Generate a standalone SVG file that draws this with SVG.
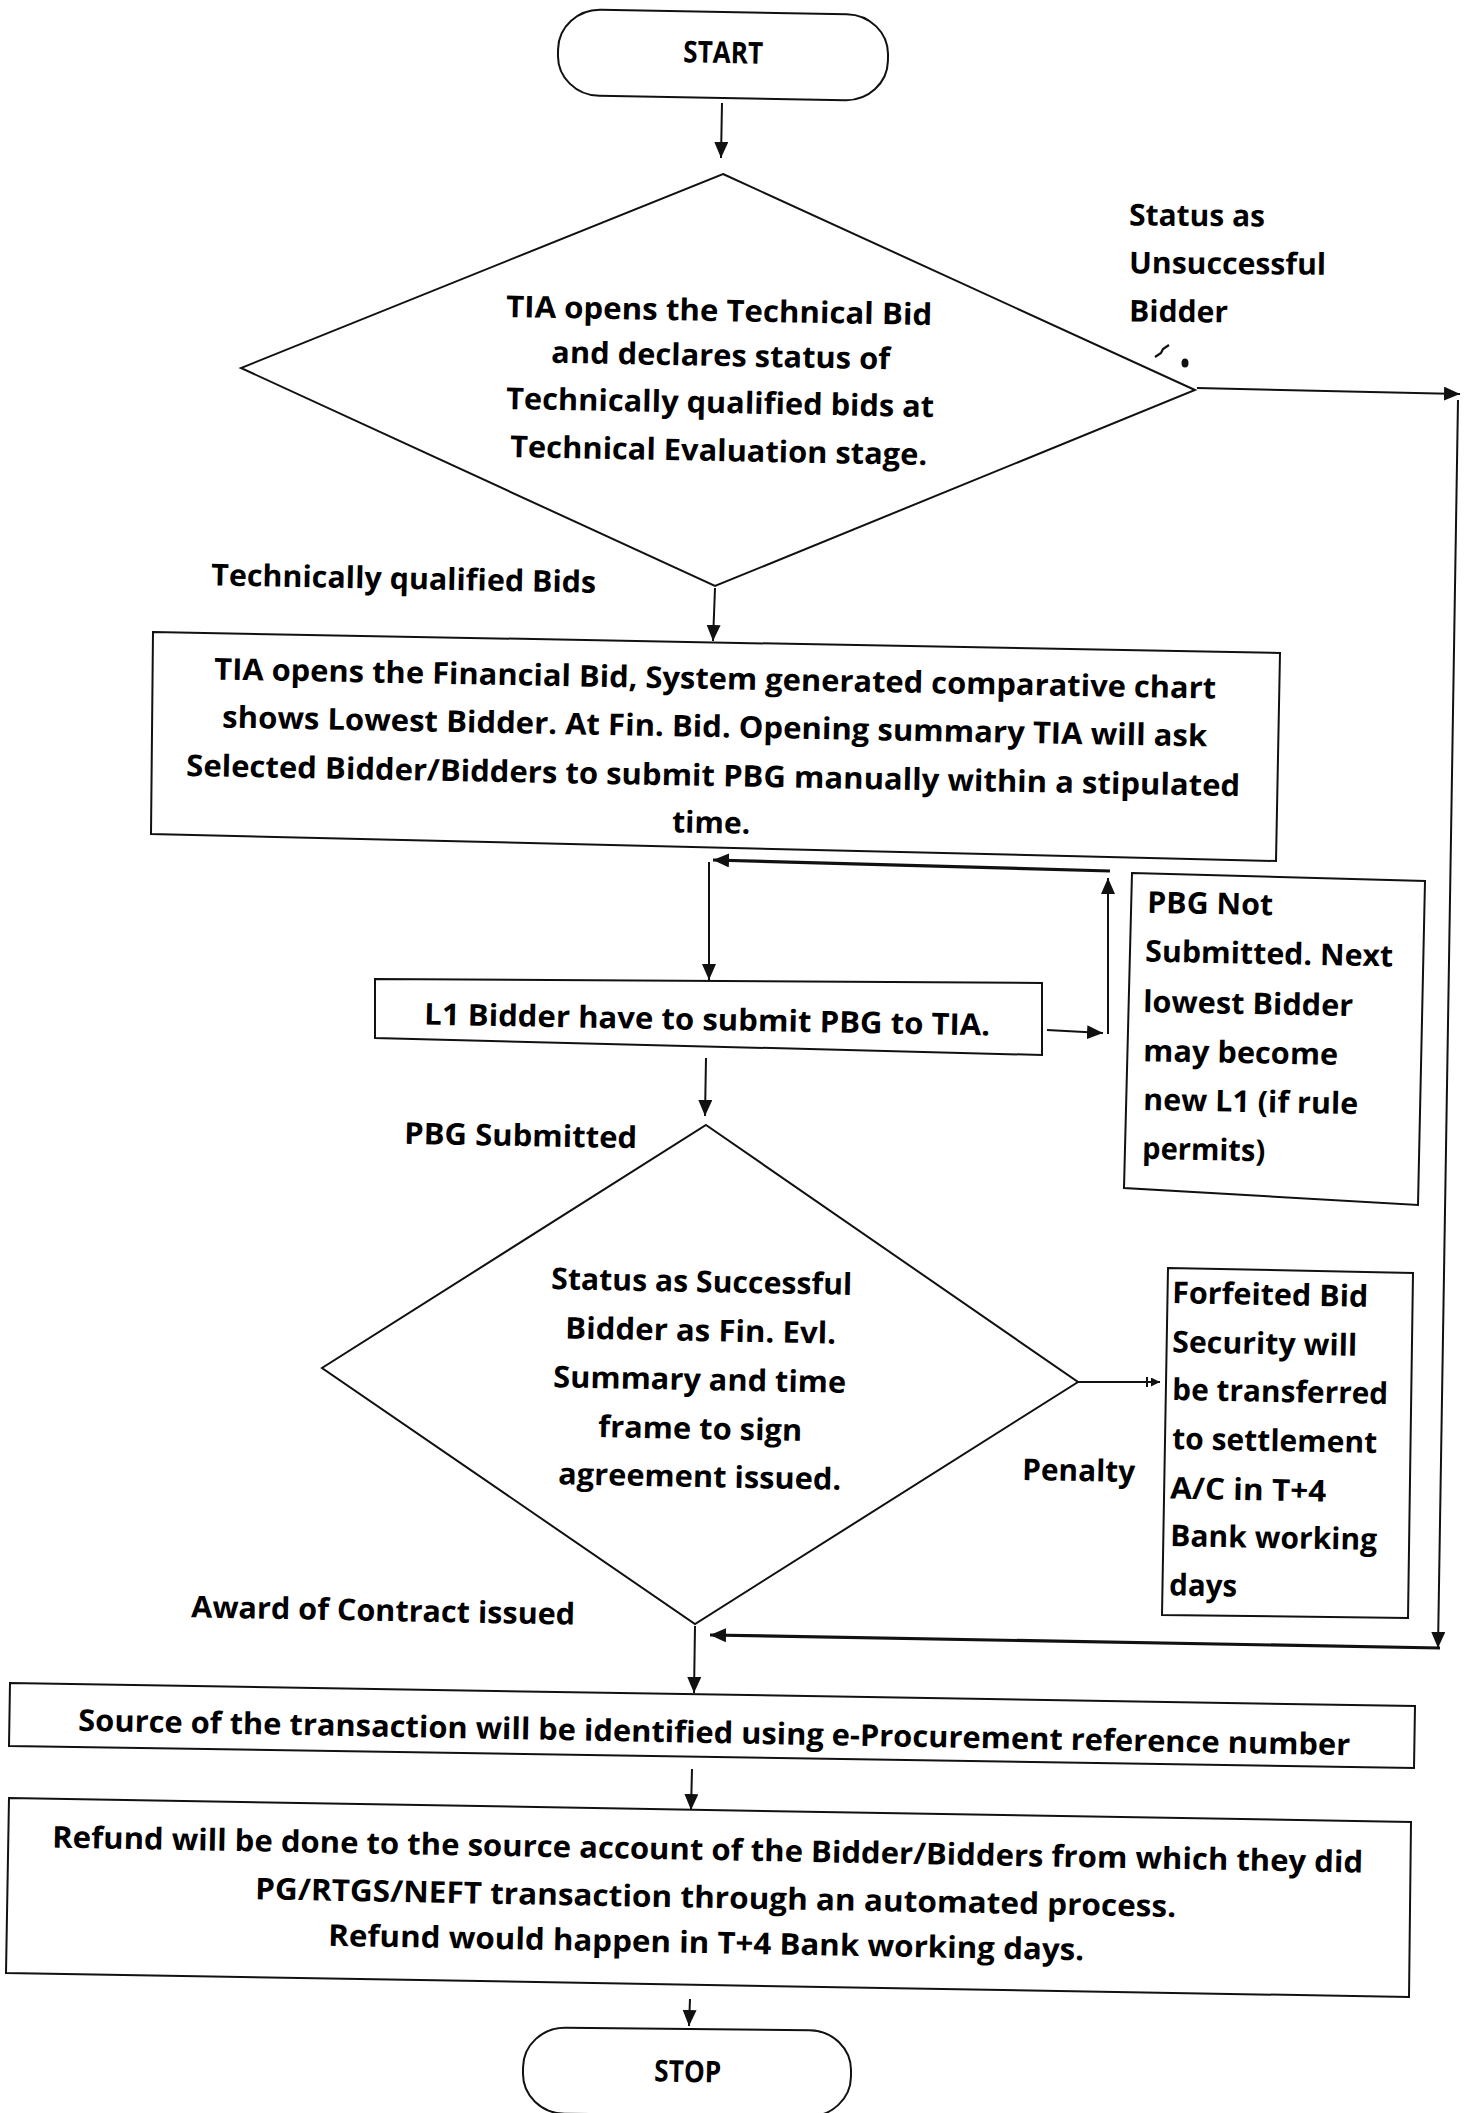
<svg xmlns="http://www.w3.org/2000/svg" width="1465" height="2113" viewBox="0 0 1465 2113">
<style>
.bg{fill:#ffffff}
.sh{fill:none;stroke:#111;stroke-width:2}
.ln{fill:none;stroke:#111;stroke-width:2}
.thk{fill:none;stroke:#111;stroke-width:3.2}
.t{font-family:"Open Sans",Lato,"Liberation Sans",sans-serif;font-weight:700;font-size:30px;fill:#000}
</style>
<defs>
<marker id="ah" markerUnits="userSpaceOnUse" markerWidth="16" markerHeight="14" refX="16" refY="7" orient="auto"><path d="M0,0 L16,7 L0,14 z" fill="#111"/></marker>
<marker id="ahs" markerUnits="userSpaceOnUse" markerWidth="9" markerHeight="9" refX="9" refY="4.5" orient="auto"><path d="M0,0 L9,4.5 L0,9 z" fill="#111"/></marker>
</defs>
<rect class="bg" x="0" y="0" width="1465" height="2113"/>

<g id="start">
<rect class="sh" x="558" y="12" width="330" height="86" rx="42" ry="40" transform="rotate(1 723 55)"/>
<text class="t" x="683" y="63" textLength="80" lengthAdjust="spacingAndGlyphs" transform="rotate(1.1 723 63)">START</text>
</g>

<g id="tech-eval">
<polygon class="sh" points="723,174 1195,390 715,586 241,368"/>
<text class="t" x="506" y="321" textLength="426" lengthAdjust="spacingAndGlyphs" transform="rotate(1.1 719 321)">TIA opens the Technical Bid</text>
<text class="t" x="551" y="366" textLength="339" lengthAdjust="spacingAndGlyphs" transform="rotate(1.1 720 366)">and declares status of</text>
<text class="t" x="506" y="413" textLength="428" lengthAdjust="spacingAndGlyphs" transform="rotate(1.1 720 413)">Technically qualified bids at</text>
<text class="t" x="510" y="461" textLength="417" lengthAdjust="spacingAndGlyphs" transform="rotate(1.1 718 461)">Technical Evaluation stage.</text>
</g>

<g id="fin-bid">
<polygon class="sh" points="153,632 1280,653 1276,861 151,834"/>
<text class="t" x="214" y="689" textLength="1002" lengthAdjust="spacingAndGlyphs" transform="rotate(1.1 715 689)">TIA opens the Financial Bid, System generated comparative chart</text>
<text class="t" x="222" y="737" textLength="985" lengthAdjust="spacingAndGlyphs" transform="rotate(1.1 714 737)">shows Lowest Bidder. At Fin. Bid. Opening summary TIA will ask</text>
<text class="t" x="186" y="786" textLength="1054" lengthAdjust="spacingAndGlyphs" transform="rotate(1.1 713 786)">Selected Bidder/Bidders to submit PBG manually within a stipulated</text>
<text class="t" x="672" y="833" textLength="78" lengthAdjust="spacingAndGlyphs" transform="rotate(1.1 711 833)">time.</text>
</g>

<g id="l1-bidder">
<polygon class="sh" points="375,979 1042,983 1042,1055 375,1038"/>
<text class="t" x="424" y="1030" textLength="566" lengthAdjust="spacingAndGlyphs" transform="rotate(1.1 707 1030)">L1 Bidder have to submit PBG to TIA.</text>
</g>

<g id="pbg-not">
<polygon class="sh" points="1132,873 1425,881 1418,1205 1124,1188"/>
<text class="t" x="1147" y="914" textLength="126" lengthAdjust="spacingAndGlyphs" transform="rotate(1.1 1210 914)">PBG Not</text>
<text class="t" x="1145" y="964" textLength="248" lengthAdjust="spacingAndGlyphs" transform="rotate(1.1 1269 964)">Submitted. Next</text>
<text class="t" x="1143" y="1014" textLength="210" lengthAdjust="spacingAndGlyphs" transform="rotate(1.1 1248 1014)">lowest Bidder</text>
<text class="t" x="1143" y="1063" textLength="195" lengthAdjust="spacingAndGlyphs" transform="rotate(1.1 1240 1063)">may become</text>
<text class="t" x="1143" y="1112" textLength="215" lengthAdjust="spacingAndGlyphs" transform="rotate(1.1 1250 1112)">new L1 (if rule</text>
<text class="t" x="1142" y="1160" textLength="123" lengthAdjust="spacingAndGlyphs" transform="rotate(1.1 1203 1160)">permits)</text>
</g>

<g id="fin-eval">
<polygon class="sh" points="706,1125 1078,1382 695,1624 322,1368"/>
<text class="t" x="551" y="1292" textLength="301" lengthAdjust="spacingAndGlyphs" transform="rotate(1.1 701 1292)">Status as Successful</text>
<text class="t" x="565" y="1341" textLength="271" lengthAdjust="spacingAndGlyphs" transform="rotate(1.1 700 1341)">Bidder as Fin. Evl.</text>
<text class="t" x="553" y="1390" textLength="293" lengthAdjust="spacingAndGlyphs" transform="rotate(1.1 700 1390)">Summary and time</text>
<text class="t" x="598" y="1439" textLength="204" lengthAdjust="spacingAndGlyphs" transform="rotate(1.1 700 1439)">frame to sign</text>
<text class="t" x="558" y="1487" textLength="283" lengthAdjust="spacingAndGlyphs" transform="rotate(1.1 700 1487)">agreement issued.</text>
</g>

<g id="forfeited">
<polygon class="sh" points="1168,1268 1413,1273 1408,1618 1162,1615"/>
<text class="t" x="1172" y="1305" textLength="196" lengthAdjust="spacingAndGlyphs" transform="rotate(1.1 1270 1305)">Forfeited Bid</text>
<text class="t" x="1172" y="1354" textLength="185" lengthAdjust="spacingAndGlyphs" transform="rotate(1.1 1264 1354)">Security will</text>
<text class="t" x="1172" y="1402" textLength="216" lengthAdjust="spacingAndGlyphs" transform="rotate(1.1 1280 1402)">be transferred</text>
<text class="t" x="1172" y="1451" textLength="205" lengthAdjust="spacingAndGlyphs" transform="rotate(1.1 1274 1451)">to settlement</text>
<text class="t" x="1170" y="1500" textLength="156" lengthAdjust="spacingAndGlyphs" transform="rotate(1.1 1248 1500)">A/C in T+4</text>
<text class="t" x="1170" y="1548" textLength="207" lengthAdjust="spacingAndGlyphs" transform="rotate(1.1 1273 1548)">Bank working</text>
<text class="t" x="1169" y="1596" textLength="68" lengthAdjust="spacingAndGlyphs" transform="rotate(1.1 1203 1596)">days</text>
</g>

<g id="source">
<polygon class="sh" points="10,1683 1415,1706 1414,1768 9,1746"/>
<text class="t" x="78" y="1743" textLength="1272" lengthAdjust="spacingAndGlyphs" transform="rotate(1.1 714 1743)">Source of the transaction will be identified using e-Procurement reference number</text>
</g>

<g id="refund">
<polygon class="sh" points="9,1798 1411,1822 1409,1997 6,1973"/>
<text class="t" x="52" y="1860" textLength="1311" lengthAdjust="spacingAndGlyphs" transform="rotate(1.1 707 1860)">Refund will be done to the source account of the Bidder/Bidders from which they did</text>
<text class="t" x="255" y="1908" textLength="921" lengthAdjust="spacingAndGlyphs" transform="rotate(1.1 715 1908)">PG/RTGS/NEFT transaction through an automated process.</text>
<text class="t" x="328" y="1953" textLength="756" lengthAdjust="spacingAndGlyphs" transform="rotate(1.1 706 1953)">Refund would happen in T+4 Bank working days.</text>
</g>

<g id="stop">
<rect class="sh" x="523" y="2029" width="328" height="86" rx="42" ry="40" transform="rotate(0.6 687 2072)"/>
<text class="t" x="654" y="2082" textLength="67" lengthAdjust="spacingAndGlyphs" transform="rotate(1.1 687 2082)">STOP</text>
</g>

<g id="labels">
<text class="t" x="1129" y="226" textLength="136" lengthAdjust="spacingAndGlyphs" transform="rotate(0.5 1197 226)">Status as</text>
<text class="t" x="1129" y="274" textLength="197" lengthAdjust="spacingAndGlyphs" transform="rotate(0.5 1227 274)">Unsuccessful</text>
<text class="t" x="1129" y="322" textLength="99" lengthAdjust="spacingAndGlyphs" transform="rotate(0.5 1178 322)">Bidder</text>
<text class="t" x="211" y="589" textLength="385" lengthAdjust="spacingAndGlyphs" transform="rotate(1.1 403 589)">Technically qualified Bids</text>
<text class="t" x="404" y="1146" textLength="233" lengthAdjust="spacingAndGlyphs" transform="rotate(1.1 520 1146)">PBG Submitted</text>
<text class="t" x="1022" y="1481" textLength="113" lengthAdjust="spacingAndGlyphs" transform="rotate(1.1 1078 1481)">Penalty</text>
<text class="t" x="191" y="1621" textLength="384" lengthAdjust="spacingAndGlyphs" transform="rotate(1.1 383 1621)">Award of Contract issued</text>
<path d="M1155,357 L1161,353 L1163,349 L1166,347 L1169,345" fill="none" stroke="#111" stroke-width="2.2"/>
<ellipse cx="1185" cy="363" rx="3.5" ry="4.5" fill="#111"/>
</g>

<g id="connectors">
<line class="ln" x1="722" y1="103" x2="721" y2="158" marker-end="url(#ah)"/>
<line class="ln" x1="715" y1="588" x2="713" y2="641" marker-end="url(#ah)"/>
<line class="ln" x1="709" y1="862" x2="709" y2="980" marker-end="url(#ah)"/>
<line class="ln" x1="706" y1="1058" x2="705" y2="1116" marker-end="url(#ah)"/>
<line class="ln" x1="695" y1="1626" x2="694" y2="1693" marker-end="url(#ah)"/>
<line class="ln" x1="692" y1="1769" x2="691" y2="1810" marker-end="url(#ah)"/>
<line class="ln" x1="690" y1="1999" x2="689" y2="2026" marker-end="url(#ah)"/>
<line class="ln" x1="1197" y1="388" x2="1460" y2="394" marker-end="url(#ah)"/>
<line class="ln" x1="1458" y1="400" x2="1438" y2="1648" marker-end="url(#ah)"/>
<line class="thk" x1="1440" y1="1648" x2="710" y2="1635" marker-end="url(#ah)"/>
<line class="ln" x1="1047" y1="1030" x2="1103" y2="1033" marker-end="url(#ah)"/>
<line class="ln" x1="1108" y1="1034" x2="1108" y2="878" marker-end="url(#ah)"/>
<line class="thk" x1="1110" y1="871" x2="713" y2="860" marker-end="url(#ah)"/>
<line class="ln" x1="1078" y1="1382" x2="1160" y2="1382" marker-end="url(#ahs)"/>
<line class="ln" x1="1147" y1="1377" x2="1147" y2="1387"/>
</g>
</svg>
